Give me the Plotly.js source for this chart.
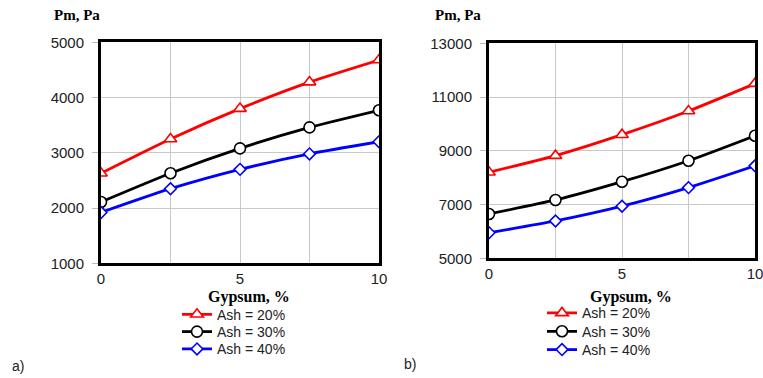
<!DOCTYPE html>
<html><head><meta charset="utf-8">
<script src="https://cdn.plot.ly/plotly-3.0.1.min.js"></script>
<style>html,body{margin:0;padding:0;background:#fff}#c{width:763px;height:378px}</style>
</head><body><div id="c"></div>
<script>
const gypsum = [0, 2.5, 5, 7.5, 10];
const seriesNames = ['Ash = 20%', 'Ash = 30%', 'Ash = 40%'];
// panel a)
const a_ash20 = [2630, 3250, 3800, 4280, 4680];
const a_ash30 = [2110, 2630, 3080, 3460, 3770];
const a_ash40 = [1920, 2350, 2700, 2980, 3200];
// panel b)
const b_ash20 = [8200, 8820, 9600, 10480, 11500];
const b_ash30 = [6650, 7170, 7850, 8630, 9560];
const b_ash40 = [5950, 6390, 6940, 7630, 8440];
const xTickVals = [0, 2.5, 5, 7.5, 10];
const xTickText = ['0', '', '5', '', '10'];

const colors = ['#ff0000', '#000000', '#0000ff'];
const symbols = ['triangle-up', 'circle', 'diamond'];
const msizes = [11, 11, 9];

function mk(y, i, xa, ya, leg) {
  return {
    x: gypsum, y: y, type: 'scatter', mode: 'lines+markers', name: seriesNames[i],
    xaxis: xa, yaxis: ya, legend: leg,
    line: {color: colors[i], width: 2.8, shape: 'spline', smoothing: 0.6},
    marker: {symbol: symbols[i], size: msizes[i], color: '#ffffff', line: {color: colors[i], width: 1.6}}
  };
}
const data = [
  mk(a_ash20, 0, 'x', 'y', 'legend'), mk(a_ash30, 1, 'x', 'y', 'legend2'), mk(a_ash40, 2, 'x', 'y', 'legend3'),
  mk(b_ash20, 0, 'x2', 'y2', 'legend4'), mk(b_ash30, 1, 'x2', 'y2', 'legend5'), mk(b_ash40, 2, 'x2', 'y2', 'legend6')
];
const W = 763, H = 378;
const tickFont = {family: 'Liberation Sans, Arial, sans-serif', size: 15, color: '#222'};
function xax(l, r, anchor) {
  return {domain: [l / W, r / W], range: [0, 10], anchor: anchor, tickvals: xTickVals, ticktext: xTickText,
    showgrid: true, gridcolor: '#c8c8c8', gridwidth: 1, showline: true, mirror: true, linecolor: '#000', linewidth: 3,
    ticks: '', ticklabelstandoff: 0, ticklabeloverflow: 'allow', tickfont: tickFont, zeroline: false, fixedrange: true};
}
function yax(top, bot, rng, dt, anchor) {
  return {domain: [1 - bot / H, 1 - top / H], range: rng, tick0: rng[0], dtick: dt, tickformat: 'd', anchor: anchor,
    showgrid: true, gridcolor: '#c8c8c8', gridwidth: 1, showline: true, mirror: true, linecolor: '#000', linewidth: 3,
    ticks: 'outside', ticklen: 6, tickcolor: '#bbb', ticklabelstandoff: 5, tickfont: tickFont, zeroline: false, fixedrange: true};
}
const legFont = {family: 'Liberation Sans, Arial, sans-serif', size: 14, color: '#222'};
function leg(xpx, ypx) {
  return {x: xpx / W, y: 1 - ypx / H, xanchor: 'left', yanchor: 'middle', bgcolor: 'rgba(0,0,0,0)', font: legFont, itemwidth: 30};
}
const serifB = {family: 'Liberation Serif, Times New Roman, serif', size: 15, color: '#000'};
const layout = {
  width: W, height: H, margin: {l: 0, r: 0, t: 0, b: 0}, paper_bgcolor: '#fff', plot_bgcolor: '#fff', showlegend: true,
  xaxis: xax(101, 379, 'y'), yaxis: yax(42.3, 263.3, [1000, 5000], 1000, 'x'),
  xaxis2: xax(489, 755, 'y2'), yaxis2: yax(43.3, 258.3, [5000, 13000], 2000, 'x2'),
  legend: leg(177, 314.7), legend2: leg(177, 332), legend3: leg(177, 349.3),
  legend4: leg(542, 313.3), legend5: leg(542, 331.7), legend6: leg(542, 350),
  annotations: [
    {text: '<b>Pm, Pa</b>', xref: 'paper', yref: 'paper', x: 52 / W, y: 1 - 15 / H, xanchor: 'left', yanchor: 'middle', showarrow: false, font: serifB},
    {text: '<b>Pm, Pa</b>', xref: 'paper', yref: 'paper', x: 433 / W, y: 1 - 15 / H, xanchor: 'left', yanchor: 'middle', showarrow: false, font: serifB},
    {text: '<b>Gypsum, %</b>', xref: 'paper', yref: 'paper', x: 249 / W, y: 1 - 297 / H, xanchor: 'center', yanchor: 'middle', showarrow: false, font: {family: 'Liberation Serif, Times New Roman, serif', size: 16, color: '#000'}},
    {text: '<b>Gypsum, %</b>', xref: 'paper', yref: 'paper', x: 631 / W, y: 1 - 297 / H, xanchor: 'center', yanchor: 'middle', showarrow: false, font: {family: 'Liberation Serif, Times New Roman, serif', size: 16, color: '#000'}},
    {text: 'a)', xref: 'paper', yref: 'paper', x: 10 / W, y: 1 - 366 / H, xanchor: 'left', yanchor: 'middle', showarrow: false, font: {family: 'Liberation Sans, Arial, sans-serif', size: 14, color: '#222'}},
    {text: 'b)', xref: 'paper', yref: 'paper', x: 402 / W, y: 1 - 364 / H, xanchor: 'left', yanchor: 'middle', showarrow: false, font: {family: 'Liberation Sans, Arial, sans-serif', size: 14, color: '#222'}}
  ]
};
Plotly.newPlot('c', data, layout, {displayModeBar: false, staticPlot: true});
</script></body></html>
